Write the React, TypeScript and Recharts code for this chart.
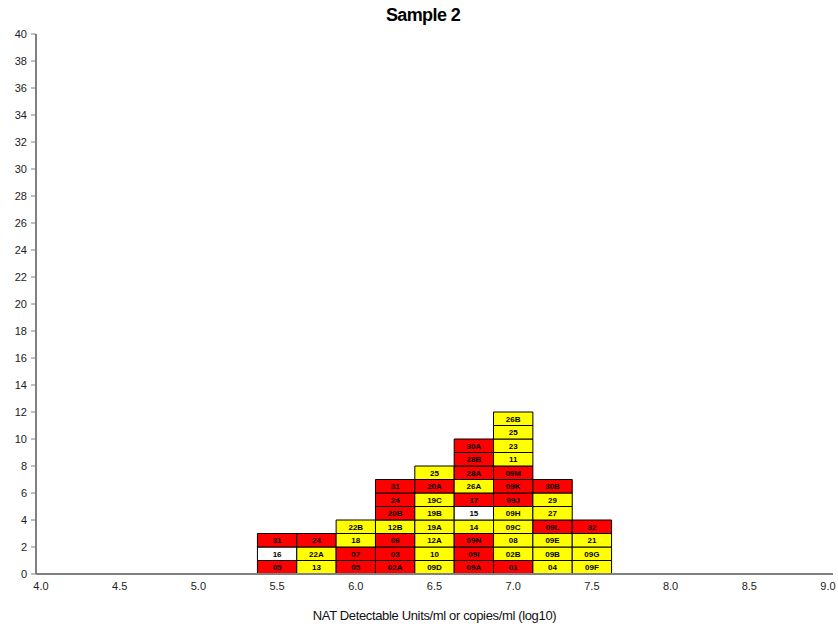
import { ScatterChart, Scatter, XAxis, YAxis, ReferenceArea } from "recharts"

// bin centres on the log10 axis
const bins = [5.5, 5.75, 6.0, 6.25, 6.5, 6.75, 7.0, 7.25, 7.5]
const binWidth = 0.25

// labels per bin, bottom to top
const labels55 = ["05", "16", "31"]
const labels575 = ["13", "22A", "24"]
const labels60 = ["05", "07", "18", "22B"]
const labels625 = ["02A", "03", "06", "12B", "20B", "24", "31"]
const labels65 = ["09D", "10", "12A", "19A", "19B", "19C", "20A", "25"]
const labels675 = ["09A", "09I", "09N", "14", "15", "17", "26A", "28A", "28B", "30A"]
const labels70 = ["01", "02B", "08", "09C", "09H", "09J", "09K", "09M", "11", "23", "25", "26B"]
const labels725 = ["04", "09B", "09E", "09L", "27", "29", "30B"]
const labels75 = ["09F", "09G", "21", "32"]

// R = red, Y = yellow, W = white
const colors55 = ["R", "W", "R"]
const colors575 = ["Y", "Y", "R"]
const colors60 = ["R", "R", "Y", "Y"]
const colors625 = ["R", "R", "R", "Y", "R", "R", "R"]
const colors65 = ["Y", "Y", "Y", "Y", "Y", "Y", "R", "Y"]
const colors675 = ["R", "R", "R", "Y", "W", "R", "Y", "R", "R", "R"]
const colors70 = ["R", "Y", "Y", "Y", "Y", "R", "R", "R", "Y", "Y", "Y", "Y"]
const colors725 = ["Y", "Y", "Y", "R", "Y", "Y", "R"]
const colors75 = ["Y", "Y", "Y", "R"]

const xTicks = [4.0, 4.5, 5.0, 5.5, 6.0, 6.5, 7.0, 7.5, 8.0, 8.5, 9.0]
const yTicks = [0, 2, 4, 6, 8, 10, 12, 14, 16, 18, 20, 22, 24, 26, 28, 30, 32, 34, 36, 38, 40]

const palette: Record<string, string> = { R: "#ff0000", Y: "#ffff00", W: "#ffffff" }

const columnLabels = [labels55, labels575, labels60, labels625, labels65, labels675, labels70, labels725, labels75]
const columnColors = [colors55, colors575, colors60, colors625, colors65, colors675, colors70, colors725, colors75]

const cells = bins.flatMap((x, b) =>
  columnLabels[b].map((label, i) => ({ x, y: i + 0.5, row: i, label, color: palette[columnColors[b][i]] }))
)

const font = "'Liberation Sans', Arial, sans-serif"

export default function App() {
  return (
    <div style={{ position: "absolute", left: 0, top: 0, width: 838, height: 624, background: "#fff", fontFamily: font }}>
      <div
        style={{
          position: "absolute",
          top: 5,
          left: 0,
          width: 846,
          textAlign: "center",
          fontSize: 18,
          fontWeight: "bold",
          letterSpacing: -0.6,
          color: "#000",
        }}
      >
        Sample 2
      </div>
      <ScatterChart width={838} height={624} margin={{ top: 34, right: 5, left: 0, bottom: 0 }}>
        <XAxis
          type="number"
          dataKey="x"
          domain={[4, 9]}
          ticks={xTicks}
          tickFormatter={(v: number) => v.toFixed(1)}
          padding={{ left: 5, right: 5 }}
          height={50}
          tickLine={false}
          axisLine={{ stroke: "#808080", strokeWidth: 2 }}
          tick={{ fontSize: 11, fill: "#222", fontFamily: font }}
          label={{
            value: "NAT Detectable Units/ml or copies/ml (log10)",
            position: "insideBottom",
            offset: 4,
            fontSize: 13,
            fill: "#111",
            fontFamily: font,
            letterSpacing: -0.35,
          }}
        />
        <YAxis
          type="number"
          dataKey="y"
          domain={[0, 40]}
          ticks={yTicks}
          width={36}
          tickSize={5}
          tickMargin={4}
          axisLine={{ stroke: "#808080", strokeWidth: 2 }}
          tickLine={{ stroke: "#808080" }}
          tick={{ fontSize: 11, fill: "#222", fontFamily: font }}
          interval={0}
        />
        <Scatter data={cells} fill="none" shape={() => <g />} isAnimationActive={false} />
        {cells.map((c, i) => (
          <ReferenceArea
            key={i}
            x1={c.x - binWidth / 2}
            x2={c.x + binWidth / 2}
            y1={c.row}
            y2={c.row + 1}
            fill={c.color}
            fillOpacity={1}
            stroke="#000"
            strokeWidth={1}
            ifOverflow="visible"
            label={{
              value: c.label,
              position: "center",
              fontSize: 8,
              fontWeight: "bold",
              fill: "#000",
              fontFamily: font,
            }}
          />
        ))}
      </ScatterChart>
    </div>
  )
}
